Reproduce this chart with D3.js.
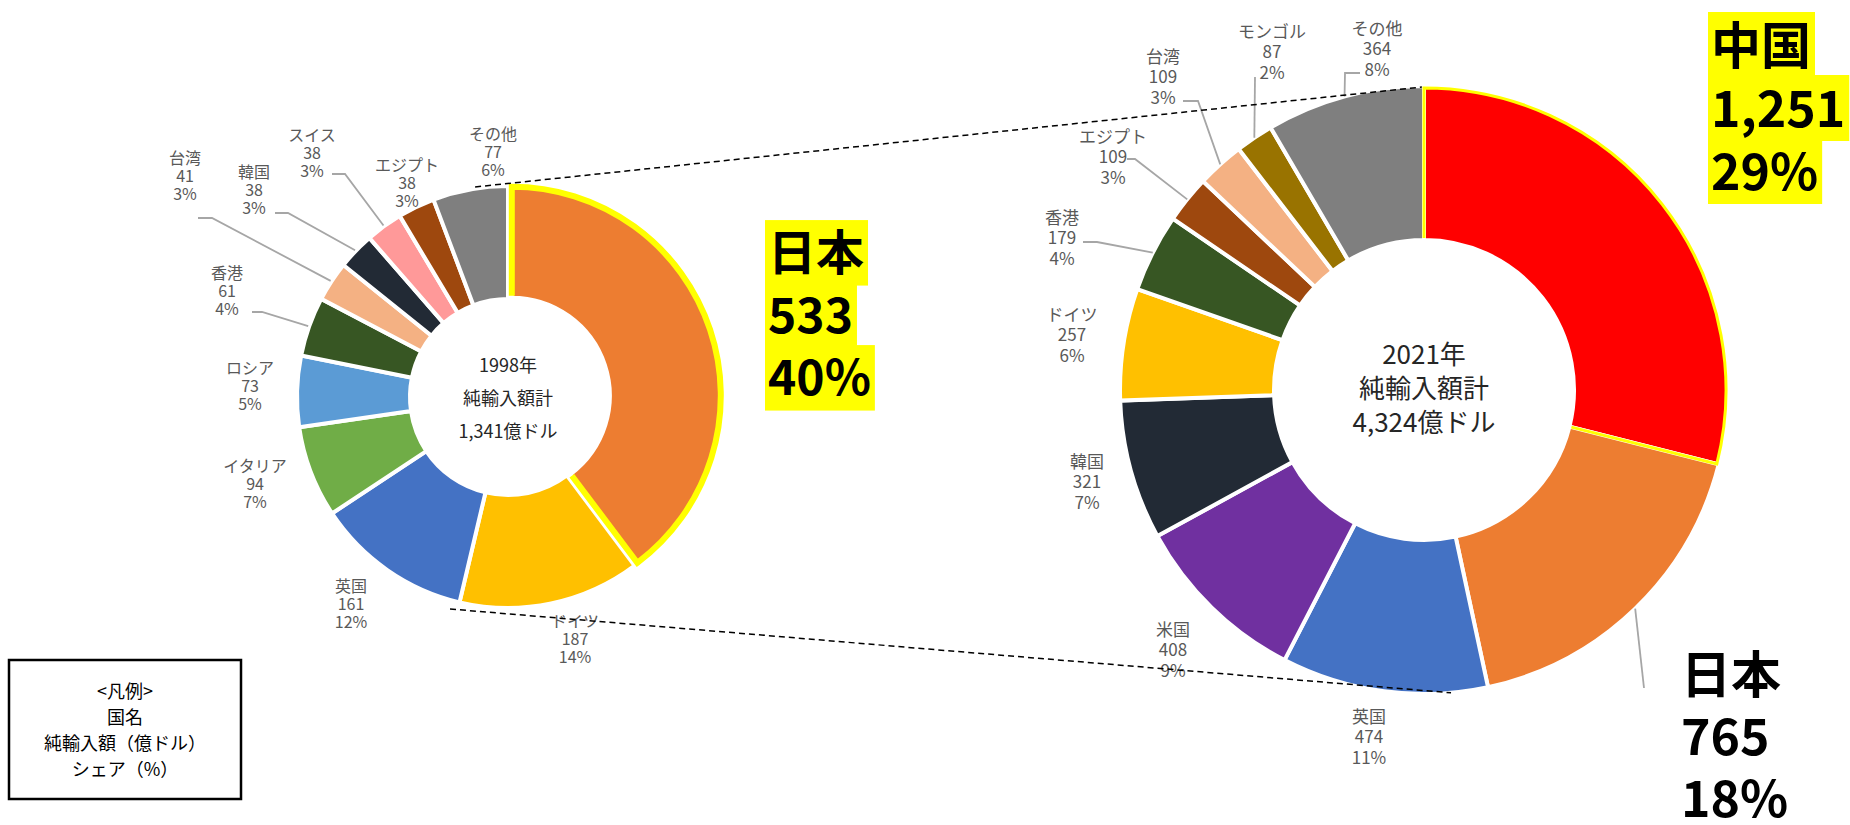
<!DOCTYPE html>
<html>
<head>
<meta charset="utf-8">
<script src="https://cdn.jsdelivr.net/npm/d3@7"></script>
<style>
  body { margin: 0; background: #ffffff; }
  svg { display: block; font-family: "Noto Sans CJK JP", "Noto Sans", sans-serif; }
  .slice-label { fill: #595959; }
  .leader { fill: none; stroke: #A6A6A6; stroke-width: 1.8; }
  .center-text { fill: #262626; }
  .callout { fill: #000000; font-weight: 700; }
</style>
</head>
<body>
<div id="vis"></div>
<script>
const WIDTH = 1850
const HEIGHT = 825

// 1998
const countries1998 = ["日本", "ドイツ", "英国", "イタリア", "ロシア", "香港", "台湾", "韓国", "スイス", "エジプト", "その他"]
const values1998 = [533, 187, 161, 94, 73, 61, 41, 38, 38, 38, 77]
const shares1998 = [40, 14, 12, 7, 5, 4, 3, 3, 3, 3, 6]
const total1998 = "1,341億ドル"

// 2021
const countries2021 = ["中国", "日本", "英国", "米国", "韓国", "ドイツ", "香港", "エジプト", "台湾", "モンゴル", "その他"]
const values2021 = [1251, 765, 474, 408, 321, 257, 179, 109, 109, 87, 364]
const shares2021 = [29, 18, 11, 9, 7, 6, 4, 3, 3, 2, 8]
const total2021 = "4,324億ドル"

const legendLines = ["<凡例>", "国名", "純輸入額（億ドル）", "シェア（%）"]

const COLORS = {
  "中国": "#FF0000",
  "日本": "#ED7D31",
  "ドイツ": "#FFC000",
  "英国": "#4472C4",
  "イタリア": "#70AD47",
  "ロシア": "#5B9BD5",
  "米国": "#7030A0",
  "香港": "#375623",
  "台湾": "#F4B183",
  "韓国": "#222A35",
  "スイス": "#FF9999",
  "エジプト": "#9E480E",
  "モンゴル": "#997300",
  "その他": "#7F7F7F"
}

// layout of the two donuts
const LEFT = {
  cx: 508, cy: 397, r: 209, r0: 100,
  year: "1998年", total: total1998, centerSize: 18, centerGap: 33, centerY: 0,
  labelSize: 16, labelGap: 18, leaderR: 212,
  highlight: "日本", highlightWidth: 6, explode: 4,
  labels: {
    "ドイツ": [67, 241], "英国": [-157, 206], "イタリア": [-253, 86], "ロシア": [-258, -12],
    "香港": [-281, -107], "台湾": [-323, -222], "韓国": [-254, -208], "スイス": [-196, -245],
    "エジプト": [-101, -215], "その他": [-15, -246]
  },
  leaders: {
    "香港": [[-256, -85], [-246, -85]],
    "台湾": [[-310, -179], [-296, -179]],
    "韓国": [[-233, -184], [-220, -184]],
    "スイス": [[-176, -223], [-163, -223]]
  }
}

const RIGHT = {
  cx: 1424, cy: 390, r: 302, r0: 152,
  year: "2021年", total: total2021, centerSize: 26, centerGap: 34, centerY: -4,
  labelSize: 17, labelGap: 20.5, leaderR: 304,
  highlight: "中国", highlightWidth: 3, explode: 0,
  labels: {
    "英国": [-55, 345], "米国": [-251, 258], "韓国": [-337, 90], "ドイツ": [-352, -57],
    "香港": [-362, -154], "エジプト": [-311, -235], "台湾": [-261, -315],
    "モンゴル": [-152, -340], "その他": [-47, -343]
  },
  leaders: {
    "その他": [[-64, -317], [-79, -317]],
    "モンゴル": [[-169, -313]],
    "台湾": [[-241, -289], [-226, -289]],
    "エジプト": [[-297, -231], [-289, -231]],
    "香港": [[-341, -148], [-327, -148]],
    "日本": [[220, 298]]
  }
}

const SVG = d3.select("#vis")
  .append("svg")
  .attr("width", WIDTH)
  .attr("height", HEIGHT)

const polar = (angle, r) => [r * Math.sin(angle), -r * Math.cos(angle)]

// outer arc plus both radial edges, without the inner arc
function edgePath(a, r0, r) {
  const s = a.startAngle - Math.PI / 2
  const e = a.endAngle - Math.PI / 2
  const p = d3.path()
  p.moveTo(r0 * Math.cos(s), r0 * Math.sin(s))
  p.lineTo(r * Math.cos(s), r * Math.sin(s))
  p.arc(0, 0, r, s, e)
  p.lineTo(r0 * Math.cos(e), r0 * Math.sin(e))
  return p.toString()
}

function drawDonut(names, values, shares, opt) {
  const data = names.map((n, i) => ({ name: n, value: values[i], share: shares[i] }))
  const arcs = d3.pie().sort(null).value(d => d.value)(data)
  const arc = d3.arc().innerRadius(opt.r0 - 2).outerRadius(opt.r + 2)

  const g = SVG.append("g")
    .attr("transform", `translate(${opt.cx},${opt.cy})`)

  const offset = d => {
    if (d.data.name != opt.highlight) return "translate(0,0)"
    const [x, y] = polar((d.startAngle + d.endAngle) / 2, opt.explode)
    return `translate(${x},${y})`
  }

  g.selectAll("path.slice")
    .data(arcs)
    .join("path")
    .attr("class", "slice")
    .attr("d", arc)
    .attr("transform", offset)
    .attr("fill", d => COLORS[d.data.name])
    .attr("stroke", "#ffffff")
    .attr("stroke-width", 4)

  g.selectAll("path.slice-highlight")
    .data(arcs.filter(d => d.data.name == opt.highlight))
    .join("path")
    .attr("class", "slice-highlight")
    .attr("d", d => edgePath(d, opt.r0, opt.r))
    .attr("transform", offset)
    .attr("fill", "none")
    .attr("stroke", "#FFFF00")
    .attr("stroke-width", opt.highlightWidth)
    .attr("stroke-linejoin", "miter")

  // leader lines
  g.selectAll("path.leader")
    .data(arcs.filter(d => opt.leaders[d.data.name]))
    .join("path")
    .attr("class", "leader")
    .attr("d", d => {
      const pts = opt.leaders[d.data.name].slice()
      pts.push(polar((d.startAngle + d.endAngle) / 2, opt.leaderR))
      return d3.line()(pts)
    })

  // data labels
  const labels = g.selectAll("text.slice-label")
    .data(arcs.filter(d => opt.labels[d.data.name]))
    .join("text")
    .attr("class", "slice-label")
    .attr("text-anchor", "middle")
    .attr("dominant-baseline", "central")
    .attr("font-size", opt.labelSize)

  labels.selectAll("tspan")
    .data(d => {
      const [x, y] = opt.labels[d.data.name]
      return [d.data.name, d3.format(",")(d.data.value), d.data.share + "%"]
        .map((t, i) => ({ t, x, y: y + (i - 1) * opt.labelGap }))
    })
    .join("tspan")
    .attr("x", d => d.x)
    .attr("y", d => d.y)
    .text(d => d.t)

  // total in the hole
  g.append("text")
    .attr("class", "center-text")
    .attr("text-anchor", "middle")
    .attr("dominant-baseline", "central")
    .attr("font-size", opt.centerSize)
    .selectAll("tspan")
    .data([opt.year, "純輸入額計", opt.total])
    .join("tspan")
    .attr("x", 0)
    .attr("y", (d, i) => opt.centerY + (i - 1) * opt.centerGap)
    .text(d => d)

  return arcs
}

const arcs1998 = drawDonut(countries1998, values1998, shares1998, LEFT)
const arcs2021 = drawDonut(countries2021, values2021, shares2021, RIGHT)

// dashed connectors between the two donuts
const CONNECTORS = [
  [[-8.9, 212.6], [-0.4, 303]],
  [[195.3, 219.8], [174.9, 304]]
]
const rad = a => a * Math.PI / 180
SVG.selectAll("line.connector")
  .data(CONNECTORS)
  .join("line")
  .attr("class", "connector")
  .attr("x1", d => LEFT.cx + polar(rad(d[0][0]), d[0][1])[0])
  .attr("y1", d => LEFT.cy + polar(rad(d[0][0]), d[0][1])[1])
  .attr("x2", d => RIGHT.cx + polar(rad(d[1][0]), d[1][1])[0])
  .attr("y2", d => RIGHT.cy + polar(rad(d[1][0]), d[1][1])[1])
  .attr("stroke", "#000000")
  .attr("stroke-width", 1.5)
  .attr("stroke-dasharray", "6,4")

// big callouts
function callout(arcs, name, x, y0, size, gap, marker) {
  const d = arcs.find(a => a.data.name == name)
  const lines = [name, d3.format(",")(d.data.value), d.data.share + "%"]
  const g = SVG.append("g").attr("class", "callout-group")
  const texts = g.selectAll("text.callout")
    .data(lines)
    .join("text")
    .attr("class", "callout")
    .attr("x", x)
    .attr("y", (t, i) => y0 + i * gap)
    .attr("font-size", size)
    .text(t => t)
  if (marker) {
    texts.each(function (t, i) {
      const b = this.getBBox()
      g.insert("rect", "text")
        .attr("x", x - 3)
        .attr("y", y0 + i * gap - size * 1.04)
        .attr("width", b.width + 7)
        .attr("height", gap + 3)
        .attr("fill", marker)
    })
  }
}

callout(arcs1998, "日本", 768, 270, 48, 62.5, "#FFFF00")
callout(arcs2021, "中国", 1711, 64, 50, 63, "#FFFF00")
callout(arcs2021, "日本", 1681, 693, 50, 62, null)

// legend box
const legend = SVG.append("g").attr("class", "legend")
legend.append("rect")
  .attr("x", 9)
  .attr("y", 660)
  .attr("width", 232)
  .attr("height", 139)
  .attr("fill", "#ffffff")
  .attr("stroke", "#000000")
  .attr("stroke-width", 2.5)
legend.append("text")
  .attr("text-anchor", "middle")
  .attr("dominant-baseline", "central")
  .attr("font-size", 18)
  .selectAll("tspan")
  .data(legendLines)
  .join("tspan")
  .attr("x", 125)
  .attr("y", (d, i) => 690 + i * 26)
  .text(d => d)
</script>
</body>
</html>
